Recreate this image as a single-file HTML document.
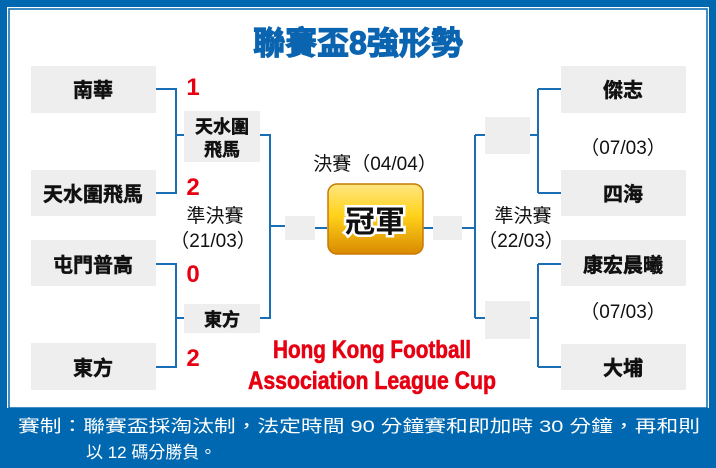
<!DOCTYPE html>
<html><head><meta charset="utf-8"><style>
html,body{margin:0;padding:0;background:#fff}
svg{display:block}
text{font-family:"Liberation Sans","Noto Sans CJK TC",sans-serif}
</style></head><body>
<svg width="716" height="468" viewBox="0 0 716 468" xmlns="http://www.w3.org/2000/svg">
<defs>
<linearGradient id="g" x1="0" y1="0" x2="0" y2="1">
<stop offset="0" stop-color="#ffe680"/><stop offset="0.45" stop-color="#ffd21a"/><stop offset="1" stop-color="#d98a00"/>
</linearGradient>
</defs>
<rect x="0" y="0" width="716" height="468" fill="#0068b0"/>
<rect x="7" y="7" width="702" height="401" fill="#fff"/>
<rect x="9" y="9" width="698" height="399" fill="none" stroke="#0068b0" stroke-width="1.5"/>
<rect x="10" y="10" width="696" height="397" fill="#fff"/>
<text x="358" y="54" text-anchor="middle" font-size="32" font-weight="bold" fill="#0a64b0" stroke="#0a64b0" stroke-width="1.2">聯賽盃8強形勢</text>
<g fill="#eeeeee">
<rect x="31" y="66" width="125" height="47"/><rect x="31" y="170" width="125" height="46"/>
<rect x="31" y="240" width="125" height="46"/><rect x="31" y="343" width="125" height="47"/>
<rect x="184" y="111" width="76" height="51"/><rect x="184" y="304" width="76" height="29"/>
<rect x="285" y="216" width="30" height="24"/><rect x="433" y="216" width="29" height="24"/>
<rect x="485" y="117" width="45" height="37"/><rect x="485" y="301" width="45" height="38"/>
<rect x="561" y="66" width="125" height="47"/><rect x="561" y="170" width="125" height="46"/>
<rect x="561" y="240" width="125" height="46"/><rect x="561" y="344" width="125" height="46"/>
</g>
<g fill="none" stroke="#1a6eb5" stroke-width="2">
<path d="M156 89H176V193H156M176 135H184"/>
<path d="M156 264H176V367H156M176 318H184"/>
<path d="M260 135H270V318H260M270 226H285"/>
<path d="M315 228H327M423 228H433"/>
<path d="M462 228H475M475 135V318M475 135H485M475 318H485"/>
<path d="M530 135H538M538 89V193M538 89H561M538 193H561"/>
<path d="M530 318H538M538 264V367M538 264H561M538 367H561"/>
</g>
<rect x="328" y="184" width="95" height="70" rx="9" fill="url(#g)" stroke="#c87a00" stroke-width="1.5"/>
<text x="375" y="232" text-anchor="middle" font-size="30" font-weight="bold" fill="#111" stroke="#fff" stroke-width="5" paint-order="stroke">冠軍</text>
<g font-size="20" font-weight="bold" fill="#111" stroke="#111" stroke-width="0.5" text-anchor="middle">
<text x="93" y="97">南華</text><text x="93" y="201">天水圍飛馬</text>
<text x="93" y="272">屯門普高</text><text x="93" y="375">東方</text>
<text x="623" y="97">傑志</text><text x="623" y="201">四海</text>
<text x="623" y="272">康宏晨曦</text><text x="623" y="375">大埔</text>
<text x="222" y="133" font-size="18">天水圍</text><text x="222" y="156" font-size="18">飛馬</text>
<text x="222" y="326" font-size="18">東方</text>
</g>
<g font-size="24" font-weight="bold" fill="#e60012" text-anchor="middle">
<text x="193" y="95">1</text><text x="193" y="195">2</text>
<text x="193" y="282">0</text><text x="193" y="366">2</text>
</g>
<g font-size="19" fill="#111" text-anchor="middle">
<text x="375" y="170">決賽（04/04）</text>
<text x="215" y="222">準決賽</text><text x="213" y="247">（21/03）</text>
<text x="523" y="222">準決賽</text><text x="521" y="247">（22/03）</text>
<text x="623" y="154">（07/03）</text><text x="623" y="318">（07/03）</text>
</g>
<g font-size="25" font-weight="bold" fill="#e60012" stroke="#e60012" stroke-width="0.6" text-anchor="middle">
<text x="372" y="358" textLength="198" lengthAdjust="spacingAndGlyphs">Hong Kong Football</text>
<text x="372" y="389" textLength="248" lengthAdjust="spacingAndGlyphs">Association League Cup</text>
</g>
<g font-size="17" fill="#fff">
<text x="18" y="432" textLength="682" lengthAdjust="spacingAndGlyphs">賽制：聯賽盃採淘汰制，法定時間 90 分鐘賽和即加時 30 分鐘，再和則</text>
<text x="86" y="458">以 12 碼分勝負。</text>
</g>
</svg>
</body></html>
